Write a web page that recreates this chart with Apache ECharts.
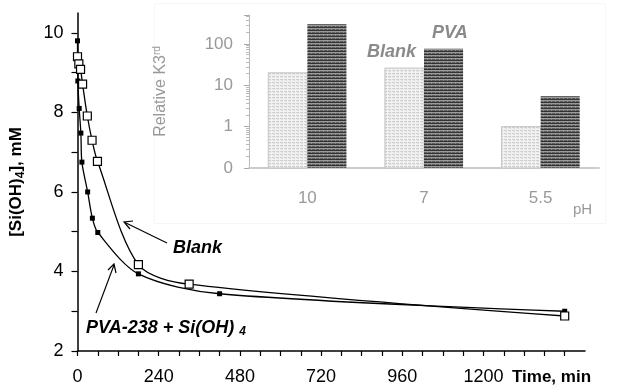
<!DOCTYPE html>
<html><head><meta charset="utf-8">
<script src="https://cdn.jsdelivr.net/npm/echarts@6/dist/echarts.min.js"></script>
<style>html,body{margin:0;padding:0;background:#fff}#c{width:617px;height:388px}</style>
</head><body><div id="c"></div>
<script>
// Main chart data: time (min), [Si(OH)4] (mM)
const blankTime = [0, 4, 9, 15, 29, 43, 59, 180, 330, 1440];
const blankConc = [9.40, 9.22, 9.08, 8.71, 7.91, 7.30, 6.77, 4.17, 3.68, 2.88];
const pvaTime = [0, 1, 5, 10, 13, 30, 44, 60, 180, 420, 1440];
const pvaConc = [9.80, 8.79, 8.10, 7.48, 6.75, 6.00, 5.34, 4.98, 3.94, 3.44, 3.00];
// Inset data: relative K3rd by pH
const insetCats = ['10', '7', '5.5'];
const insetBlank = [20, 26, 1];
const insetPVA = [300, 76, 5.4];

const FONT = 'Liberation Sans, Arial, sans-serif';

function makePattern(kind) {
  const c = document.createElement('canvas');
  c.width = 4; c.height = 3;
  const g = c.getContext('2d');
  if (kind === 'blank') {
    g.fillStyle = '#f2f2f2'; g.fillRect(0, 0, 4, 3);
    g.fillStyle = '#cfcfcf'; g.fillRect(0, 1, 3, 1);
    g.fillStyle = '#e2e2e2'; g.fillRect(1, 2, 2, 1);
  } else {
    g.fillStyle = '#333333'; g.fillRect(0, 0, 4, 1);
    g.fillStyle = '#9a9a9a'; g.fillRect(0, 1, 4, 1);
    g.fillStyle = '#5e5e5e'; g.fillRect(0, 2, 4, 1);
    g.fillStyle = '#888'; g.fillRect(3, 2, 1, 1);
  }
  return { image: c, repeat: 'repeat' };
}
const patBlank = makePattern('blank');
const patPVA = makePattern('pva');

function barRenderer(side, pattern, stroke) {
  return function (params, api) {
    const cat = api.value(0), v = api.value(1);
    const top = api.coord([cat, v]);
    const base = api.coord([cat, 0.1]);
    const bw = api.size([1, 0])[0] * 0.335;
    const x = side < 0 ? top[0] - bw : top[0];
    return {
      type: 'rect',
      shape: { x: x, y: top[1], width: bw, height: base[1] - top[1] },
      style: { fill: pattern, stroke: stroke, lineWidth: stroke ? 1 : 0 }
    };
  };
}

const chart = echarts.init(document.getElementById('c'), null, { renderer: 'canvas' });
const gray = '#999';
chart.setOption({
  animation: false,
  backgroundColor: '#fff',
  textStyle: { fontFamily: FONT },
  grid: [
    { left: 75, right: 32, top: 13, bottom: 37 },
    { left: 249, right: 18, top: 15, bottom: 220 }
  ],
  xAxis: [
    {
      gridIndex: 0, type: 'value', min: 0, max: 1500, interval: 60,
      axisLine: { lineStyle: { color: '#000', width: 1.5 } },
      axisTick: { show: true, inside: false, length: 5, lineStyle: { color: '#000', width: 1.2 } },
      axisLabel: {
        margin: 17, color: '#000', fontSize: 18, fontFamily: FONT,
        formatter: v => (v % 240 === 0 && v <= 1200) ? String(v) : '',
        showMaxLabel: false
      },
      splitLine: { show: false }
    },
    {
      gridIndex: 1, type: 'category', data: insetCats,
      axisLine: { lineStyle: { color: '#cccccc', width: 2 } },
      axisTick: { show: false },
      axisLabel: { margin: 22, color: gray, fontSize: 17, fontFamily: FONT },
      splitLine: { show: false }
    }
  ],
  yAxis: [
    {
      gridIndex: 0, type: 'value', min: 2, max: 10.5, interval: 1,
      axisLine: { show: true, lineStyle: { color: '#000', width: 1.5 } },
      axisTick: { show: true, length: 6, lineStyle: { color: '#000', width: 1.2 } },
      axisLabel: {
        margin: 14, color: '#000', fontSize: 18, fontFamily: FONT,
        formatter: v => (v % 2 === 0) ? String(v) : '',
        showMaxLabel: false
      },
      splitLine: { show: false },
      name: '[Si(OH){s|4}], mM',
      nameLocation: 'middle', nameRotate: 90, nameGap: 51,
      nameTextStyle: {
        fontWeight: 'bold', fontSize: 17, color: '#000', fontFamily: FONT,
        rich: { s: { fontWeight: 'bold', fontSize: 12, color: '#000', fontFamily: FONT, padding: [8, 0, 0, 0] } }
      }
    },
    {
      gridIndex: 1, type: 'log', logBase: 10, min: 0.1, max: 500,
      axisLine: { show: true, lineStyle: { color: '#bbbbbb', width: 1 } },
      axisTick: { show: true, length: 5, lineStyle: { color: '#aaa' } },
      minorTick: { show: true, splitNumber: 10, length: 3, lineStyle: { color: '#bbb' } },
      axisLabel: {
        margin: 16, color: gray, fontSize: 17, fontFamily: FONT,
        formatter: v => {
          const l = Math.log10(v);
          if (Math.abs(l - Math.round(l)) > 1e-6) return '';
          if (Math.round(l) === -1) return '0';
          return String(Math.round(v));
        },
        showMaxLabel: false
      },
      splitLine: { show: false },
      name: 'Relative K3{sup|rd}',
      nameLocation: 'middle', nameRotate: 90, nameGap: 79,
      nameTextStyle: {
        color: gray, fontSize: 16, fontFamily: FONT,
        rich: { sup: { color: gray, fontSize: 10, fontFamily: FONT, padding: [0, 0, 8, 0] } }
      }
    }
  ],
  series: [
    {
      type: 'line', xAxisIndex: 0, yAxisIndex: 0, smooth: 0.3,
      data: pvaTime.map((t, i) => [t, pvaConc[i]]),
      symbol: 'rect', symbolSize: 5,
      lineStyle: { color: '#000', width: 1.3 },
      itemStyle: { color: '#000', borderWidth: 0 },
      z: 3
    },
    {
      type: 'line', xAxisIndex: 0, yAxisIndex: 0, smooth: 0.3,
      data: blankTime.map((t, i) => [t, blankConc[i]]),
      symbol: 'rect', symbolSize: 8,
      lineStyle: { color: '#000', width: 1.3 },
      itemStyle: { color: '#fff', borderColor: '#000', borderWidth: 1.2 },
      z: 4
    },
    {
      type: 'custom', xAxisIndex: 1, yAxisIndex: 1,
      renderItem: barRenderer(-1, patBlank, '#c4c4c4'),
      encode: { x: 0, y: 1 },
      data: insetCats.map((c, i) => [i, insetBlank[i]])
    },
    {
      type: 'custom', xAxisIndex: 1, yAxisIndex: 1,
      renderItem: barRenderer(1, patPVA, null),
      encode: { x: 0, y: 1 },
      data: insetCats.map((c, i) => [i, insetPVA[i]])
    }
  ],
  graphic: [
    { type: 'rect', shape: { x: 154.5, y: 3.5, width: 451, height: 220 },
      style: { fill: 'none', stroke: '#f7f7f7', lineWidth: 1 }, z: -1 },
    { type: 'text', x: 512, y: 369,
      style: { text: 'Time, min', font: 'bold 17px ' + FONT, fill: '#000' } },
    { type: 'text', x: 573, y: 202,
      style: { text: 'pH', font: '15px ' + FONT, fill: gray } },
    { type: 'text', x: 367, y: 43,
      style: { text: 'Blank', font: 'italic bold 18px ' + FONT, fill: '#8a8a8a' } },
    { type: 'text', x: 432, y: 24,
      style: { text: 'PVA', font: 'italic bold 18px ' + FONT, fill: '#8a8a8a' } },
    { type: 'text', x: 173, y: 239,
      style: { text: 'Blank', font: 'italic bold 18px ' + FONT, fill: '#000' } },
    { type: 'text', x: 86, y: 318,
      style: {
        text: 'PVA-238 + Si(OH) {s|4}', font: 'italic bold 18px ' + FONT, fill: '#000',
        rich: { s: { font: 'italic bold 12px ' + FONT, fill: '#000', padding: [8, 0, 0, 0] } }
      } },
    // Blank arrow
    { type: 'line', shape: { x1: 167, y1: 243, x2: 125, y2: 222.5 }, style: { stroke: '#000', lineWidth: 1.2 } },
    { type: 'polyline', shape: { points: [[133, 221], [124, 222], [130, 229]] }, style: { stroke: '#000', lineWidth: 1.2, fill: 'none' } },
    // PVA arrow
    { type: 'line', shape: { x1: 96, y1: 313, x2: 114, y2: 265 }, style: { stroke: '#000', lineWidth: 1.2 } },
    { type: 'polyline', shape: { points: [[108, 270], [114, 264], [116, 273]] }, style: { stroke: '#000', lineWidth: 1.2, fill: 'none' } }
  ]
});
</script></body></html>
